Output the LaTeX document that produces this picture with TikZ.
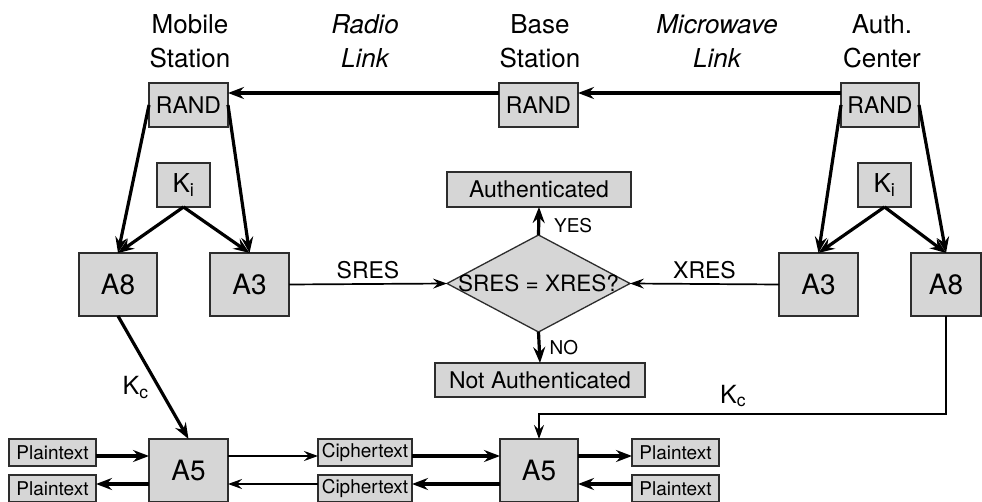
\documentclass[tikz,border=0pt]{standalone}
\usepackage{fontspec}
\setmainfont{TeX Gyre Heros}
\usetikzlibrary{arrows.meta,shapes.geometric}
\definecolor{boxfill}{RGB}{214,214,214}
\definecolor{boxline}{RGB}{45,45,45}
\newcommand\fsz[1]{\fontsize{#1}{#1}\selectfont}
\begin{document}
\begin{tikzpicture}[x=1pt,y=-1pt,
  box/.style={draw=boxline, fill=boxfill, line width=1.3pt, inner sep=0pt, outer sep=0pt},
  hdr/.style={align=center, inner sep=0pt, font=\fontsize{26}{34}\selectfont},
  ihdr/.style={hdr, font=\fontsize{26}{34}\selectfont\itshape},
  lbl/.style={inner sep=0pt},
  thk/.style={line width=3.2pt, -{Stealth[length=16pt,width=12pt,inset=5.5pt]}},
  thn/.style={line width=1.7pt, -{Stealth[length=14pt,width=10pt,inset=5pt]}},
]
\useasboundingbox[fill=white] (0,0) rectangle (982,502);

% column headings
\node[hdr]  (mhdr) at (190,41) {Mobile\\Station};
\node[ihdr] (rhdr) at (365,41) {Radio\\Link};
\node[hdr]  (bhdr) at (540,41) {Base\\Station};
\node[ihdr] (whdr) at (717,41) {Microwave\\Link};
\node[hdr]  (ahdr) at (882,41) {Auth.\\Center};

% random challenge
\node[box, minimum width=79pt, minimum height=44pt, font=\fsz{23}] (mrand) at (188.5,105) {RAND};
\node[box, minimum width=79pt, minimum height=44pt, font=\fsz{23}] (brand) at (538.5,105) {RAND};
\node[box, minimum width=78pt, minimum height=44pt, font=\fsz{23}] (arand) at (880,105) {RAND};

% secret keys
\node[box, minimum width=53pt, minimum height=44pt, font=\fsz{26}] (mki) at (183.5,185) {K\textsubscript{i}};
\node[box, minimum width=53pt, minimum height=44pt, font=\fsz{26}] (aki) at (884.5,185) {K\textsubscript{i}};

% algorithms
\node[box, minimum width=78pt, minimum height=63pt, font=\fsz{28}] (ma8) at (118,284.5) {A8};
\node[box, minimum width=79pt, minimum height=63pt, font=\fsz{28}] (ma3) at (249.5,284.5) {A3};
\node[box, minimum width=79pt, minimum height=63pt, font=\fsz{28}] (aa3) at (818.5,284.5) {A3};
\node[box, minimum width=70pt, minimum height=63pt, font=\fsz{28}] (aa8) at (946,284.5) {A8};

% decision
\node[box, minimum width=184pt, minimum height=35pt, font=\fsz{23}] (auth) at (539,189.5) {Authenticated};
\node[box, diamond, minimum width=183pt, minimum height=97pt, font=\fsz{22.5}] (dia) at (538.5,283.5) {\makebox[0pt]{SRES = XRES?}};
\node[box, minimum width=210pt, minimum height=34pt, font=\fsz{23}] (nauth) at (540,380) {Not Authenticated};

% ciphers
\node[box, minimum width=79pt, minimum height=63pt, font=\fsz{28}] (ma5) at (188.5,470.5) {A5};
\node[box, minimum width=78pt, minimum height=63pt, font=\fsz{28}] (ba5) at (539,470.5) {A5};

\node[box, minimum width=87pt, minimum height=27pt, font=\fsz{19}] (pl1) at (52.5,452.5) {Plaintext};
\node[box, minimum width=87pt, minimum height=27pt, font=\fsz{19}] (pl2) at (52.5,488.5) {Plaintext};
\node[box, minimum width=94pt, minimum height=27pt, font=\fsz{19}] (ci1) at (365,452.5) {Ciphertext};
\node[box, minimum width=94pt, minimum height=27pt, font=\fsz{19}] (ci2) at (365,488.5) {Ciphertext};
\node[box, minimum width=87pt, minimum height=27pt, font=\fsz{19}] (pr1) at (675.5,452.5) {Plaintext};
\node[box, minimum width=87pt, minimum height=27pt, font=\fsz{19}] (pr2) at (675.5,488.5) {Plaintext};

% RAND forwarding
\draw[thk] ([yshift=12pt]arand.west) -- ([yshift=12pt]brand.east);
\draw[thk] ([yshift=12pt]brand.west) -- ([yshift=12pt]mrand.east);

% inputs to A3 / A8
\draw[thk] (mrand.west) -- (ma8.north);
\draw[thk] (mrand.east) -- (ma3.north);
\draw[thk] (mki.south) -- (ma8.north);
\draw[thk] (mki.south) -- (ma3.north);
\draw[thk] (arand.west) -- (aa3.north);
\draw[thk] (arand.east) -- (aa8.north);
\draw[thk] (aki.south) -- (aa3.north);
\draw[thk] (aki.south) -- (aa8.north);

% responses
\draw[thn] (ma3.east) -- (dia.west)
  node[lbl, midway, anchor=base, yshift=5pt, font=\fsz{23}] {SRES};
\draw[thn] (aa3.west) -- (dia.east)
  node[lbl, midway, anchor=base, yshift=5pt, font=\fsz{23}] {XRES};
\draw[thk] (dia.north) -- (auth.south)
  node[lbl, pos=0, anchor=base west, xshift=14pt, yshift=2pt, font=\fsz{19}] {YES};
\draw[thk] (dia.south) -- (nauth.north)
  node[lbl, pos=1, anchor=base west, xshift=8pt, yshift=8pt, font=\fsz{19}] {NO};

% cipher keys
\draw[thk] (ma8.south) -- (ma5.north)
  node[lbl, pos=0.64, anchor=base east, xshift=-13pt, font=\fsz{25}] {K\textsubscript{c}};
\draw[thn] (aa8.south) |- ([yshift=25pt]ba5.north) -- (ba5.north);
\node[lbl, anchor=base west, font=\fsz{25}] (kca) at (720,403) {K\textsubscript{c}};

% data paths
\coordinate (mu) at ([yshift=14.5pt]ma5.west);
\coordinate (md) at ([yshift=-13.5pt]ma5.west);
\coordinate (mue) at ([yshift=14.5pt]ma5.east);
\coordinate (mde) at ([yshift=-13.5pt]ma5.east);
\coordinate (bu) at ([yshift=14.5pt]ba5.west);
\coordinate (bd) at ([yshift=-13.5pt]ba5.west);
\coordinate (bue) at ([yshift=14.5pt]ba5.east);
\coordinate (bde) at ([yshift=-13.5pt]ba5.east);

\draw[thk] (pl1.east |- mu) -- (mu);
\draw[thk] (md) -- (pl2.east |- md);
\draw[thn] (mue) -- (ci1.west |- mue);
\draw[thn] (ci2.west |- mde) -- (mde);
\draw[thk] (ci1.east |- bu) -- (bu);
\draw[thk] (bd) -- (ci2.east |- bd);
\draw[thk] (bue) -- (pr1.west |- bue);
\draw[thk] (pr2.west |- bde) -- (bde);
\end{tikzpicture}
\end{document}
